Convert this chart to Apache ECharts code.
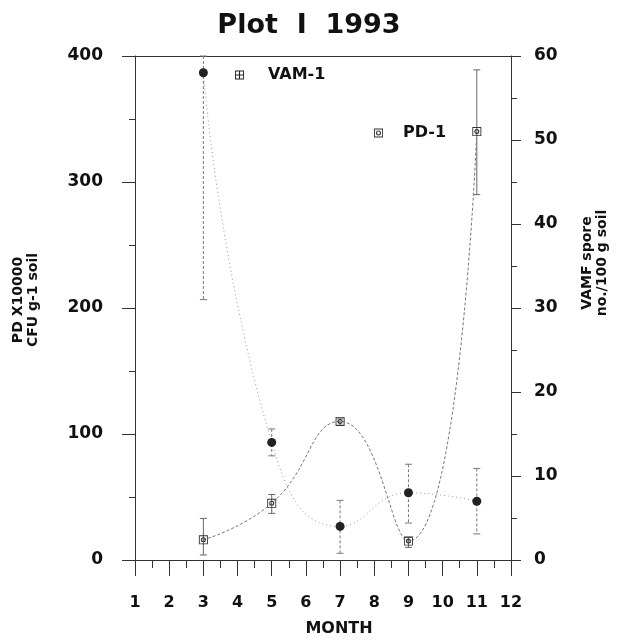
<!DOCTYPE html>
<html>
<head>
<meta charset="utf-8">
<script src="https://cdn.jsdelivr.net/npm/echarts@6/dist/echarts.min.js"></script>
<style>
html,body{margin:0;padding:0;background:#fff;}
#chart{width:618px;height:640px;}
</style>
</head>
<body>
<div id="chart"></div>
<script>
// ---- data ----
const titleText = 'Plot  I  1993';
const monthTicks = [1,2,3,4,5,6,7,8,9,10,11,12];
const months = [3, 5, 7, 9, 11];
// PD-1 (left axis, PD X10000 CFU g-1 soil)
const pdValues = [16, 45, 110, 15, 340];
const pdLow    = [4, 37, 107, 10, 290];
const pdHigh   = [33, 52, 112, 18, 389];
// VAM-1 (right axis, VAMF spore no./100 g soil)
const vamValues = [58, 14, 4, 8, 7];
const vamLow    = [31, 12.4, 0.8, 4.4, 3.1];
const vamHigh   = [60, 15.6, 7.1, 11.4, 10.9];
const leftTicks = [0, 100, 200, 300, 400];
const rightTicks = [0, 10, 20, 30, 40, 50, 60];

const FONT = 'DejaVu Sans';
const INK = '#111';
const AXIS = '#333';

const pdSymbol = 'path://M0,0H10V10H0Z M1,1V9H9V1Z M5,2.2A2.8,2.8 0 1,0 5,7.8A2.8,2.8 0 1,0 5,2.2Z M5,3.4A1.6,1.6 0 1,1 5,6.6A1.6,1.6 0 1,1 5,3.4Z';
const vamLegendIcon = 'path://M0,0H10V10H0Z M1,1V4.4H4.4V1Z M5.6,1V4.4H9V1Z M1,5.6V9H4.4V5.6Z M5.6,5.6V9H9V5.6Z';

function pairs(xs, ys) { return xs.map((x, i) => [x, ys[i]]); }
function triples(xs, lo, hi) { return xs.map((x, i) => [x, lo[i], hi[i]]); }

function errRender(color, dash) {
  return function (params, api) {
    const x = api.value(0), lo = api.value(1), hi = api.value(2);
    const a = api.coord([x, hi]);
    const b = api.coord([x, lo]);
    const w = 3.5;
    const st = { stroke: color, lineWidth: 1, lineDash: dash };
    return {
      type: 'group',
      children: [
        { type: 'line', shape: { x1: a[0], y1: a[1], x2: b[0], y2: b[1] }, style: st },
        { type: 'line', shape: { x1: a[0] - w, y1: a[1], x2: a[0] + w, y2: a[1] }, style: { stroke: color, lineWidth: 1 } },
        { type: 'line', shape: { x1: b[0] - w, y1: b[1], x2: b[0] + w, y2: b[1] }, style: { stroke: color, lineWidth: 1 } }
      ]
    };
  };
}

const chart = echarts.init(document.getElementById('chart'), null, { renderer: 'canvas' });
chart.setOption({
  animation: false,
  backgroundColor: '#fff',
  title: {
    text: titleText,
    left: 'center',
    top: 7,
    textStyle: { fontFamily: FONT, fontWeight: 'bold', fontSize: 27, color: INK }
  },
  legend: [
    {
      data: [{ name: 'VAM-1', icon: vamLegendIcon }],
      left: 230, top: 62,
      itemWidth: 9, itemHeight: 9,
      textStyle: { fontFamily: FONT, fontWeight: 'bold', fontSize: 16, color: INK, padding: [0, 0, 0, 19] }
    },
    {
      data: [{ name: 'PD-1', icon: pdSymbol }],
      left: 369, top: 120,
      itemWidth: 9, itemHeight: 9,
      textStyle: { fontFamily: FONT, fontWeight: 'bold', fontSize: 16, color: INK, padding: [0, 0, 0, 15] }
    }
  ],
  grid: { left: 135, right: 107, top: 56, bottom: 80, containLabel: false, outerBoundsMode: 'none' },
  xAxis: [
    {
      type: 'value', min: monthTicks[0], max: monthTicks[monthTicks.length - 1], interval: 1,
      name: 'MONTH', nameLocation: 'middle', nameGap: 61,
      nameTextStyle: { fontFamily: FONT, fontWeight: 'bold', fontSize: 16, color: INK, padding: [0, 0, 0, 32] },
      axisLine: { show: true, onZero: false, lineStyle: { color: AXIS, width: 1 } },
      axisTick: { show: true, length: 16, lineStyle: { color: AXIS } },
      minorTick: { show: true, splitNumber: 2, length: 8, lineStyle: { color: AXIS } },
      axisLabel: { margin: 35, fontFamily: FONT, fontWeight: 'bold', fontSize: 16, color: INK,
        formatter: v => monthTicks.indexOf(v) >= 0 ? String(v) : '' },
      splitLine: { show: false }
    },
    {
      type: 'value', min: 1, max: 12, position: 'top',
      axisLine: { show: true, onZero: false, lineStyle: { color: AXIS, width: 1 } },
      axisTick: { show: false }, axisLabel: { show: false }, splitLine: { show: false }
    }
  ],
  yAxis: [
    {
      type: 'value', min: leftTicks[0], max: leftTicks[leftTicks.length - 1], interval: 100,
      position: 'left',
      name: 'PD X10000\nCFU g-1 soil', nameLocation: 'middle', nameGap: 94, nameRotate: 90,
      nameTextStyle: { fontFamily: FONT, fontWeight: 'bold', fontSize: 14, color: INK, lineHeight: 15, padding: [0, 0, 0, 16] },
      axisLine: { show: true, onZero: false, lineStyle: { color: AXIS, width: 1 } },
      axisTick: { show: true, length: 13, lineStyle: { color: AXIS } },
      minorTick: { show: true, splitNumber: 2, length: 6, lineStyle: { color: AXIS } },
      axisLabel: { margin: 32, fontFamily: FONT, fontWeight: 'bold', fontSize: 17, color: INK },
      splitLine: { show: false }
    },
    {
      type: 'value', min: rightTicks[0], max: rightTicks[rightTicks.length - 1], interval: 10,
      position: 'right',
      name: 'VAMF spore\nno./100 g soil', nameLocation: 'middle', nameGap: 69, nameRotate: 90,
      nameTextStyle: { fontFamily: FONT, fontWeight: 'bold', fontSize: 14, color: INK, lineHeight: 15, padding: [0, 0, 0, 90] },
      axisLine: { show: true, onZero: false, lineStyle: { color: AXIS, width: 1 } },
      axisTick: { show: true, length: 10, lineStyle: { color: AXIS } },
      minorTick: { show: true, splitNumber: 2, length: 6, lineStyle: { color: AXIS } },
      axisLabel: { margin: 23, fontFamily: FONT, fontWeight: 'bold', fontSize: 17, color: INK },
      splitLine: { show: false }
    }
  ],
  series: [
    {
      name: 'PD-1 err', type: 'custom', xAxisIndex: 0, yAxisIndex: 0,
      data: triples(months, pdLow, pdHigh),
      renderItem: errRender('#666', null), z: 2, silent: true
    },
    {
      name: 'VAM-1 err', type: 'custom', xAxisIndex: 0, yAxisIndex: 1,
      data: triples(months, vamLow, vamHigh),
      renderItem: errRender('#777', [3, 2]), z: 2, silent: true
    },
    {
      name: 'PD-1', type: 'line', xAxisIndex: 0, yAxisIndex: 0,
      data: pairs(months, pdValues), smooth: true,
      symbol: pdSymbol, symbolSize: 9, showAllSymbol: true,
      lineStyle: { color: '#777', width: 1, type: [3, 2] },
      itemStyle: { color: '#333' }, z: 3
    },
    {
      name: 'VAM-1', type: 'line', xAxisIndex: 0, yAxisIndex: 1,
      data: pairs(months, vamValues), smooth: true,
      symbol: 'circle', symbolSize: 9, showAllSymbol: true,
      lineStyle: { color: '#999', width: 1, type: [1, 3] },
      itemStyle: { color: '#222' }, z: 3
    }
  ]
});
</script>
</body>
</html>
